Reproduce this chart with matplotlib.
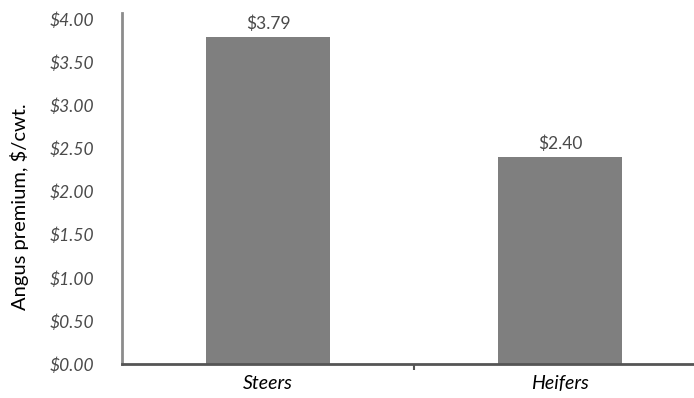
import matplotlib.pyplot as plt
from matplotlib.ticker import FixedLocator

# data
categories = ["Steers", "Heifers"]
premiums = [3.79, 2.40]
yticks = [0, 0.5, 1.0, 1.5, 2.0, 2.5, 3.0, 3.5, 4.0]

plt.rcParams['font.family'] = ['Lato', 'DejaVu Sans']

fig = plt.figure(figsize=(6.94, 3.98), dpi=100)
ax = fig.add_axes([0.1758, 0.0854, 0.8242, 0.882])

x = list(range(len(categories)))
ax.bar(x, premiums, width=0.425, color="#7f7f7f", zorder=2)

for xi, v in zip(x, premiums):
    ax.text(xi, v + 0.09, f"${v:.2f}", ha="center", va="baseline",
            fontsize=12.5, color="#4a4a4a")

ax.set_xlim(-0.5, 1.459)
ax.set_ylim(0, 4.07)

ax.set_yticks(yticks)
ax.set_yticklabels([f"${t:.2f}" for t in yticks], fontsize=12.5, style="italic",
                   color="#4a4a4a")
ax.tick_params(axis="y", length=0, pad=20)

ax.set_xticks(x)
ax.set_xticklabels(categories, fontsize=14, style="italic", color="black")
ax.tick_params(axis="x", which="major", length=0, pad=8)
ax.xaxis.set_minor_locator(FixedLocator([0.5]))
ax.tick_params(axis="x", which="minor", length=4, width=1.5, color="#555555")

fig.text(20 / 694, 1 - 207 / 398, "Angus premium, $/cwt.", rotation=90,
         ha="center", va="center", fontsize=14.5, color="black")

for s in ["top", "right"]:
    ax.spines[s].set_visible(False)
ax.spines["left"].set_color("#8c8c8c")
ax.spines["left"].set_linewidth(2)
ax.spines["bottom"].set_color("#555555")
ax.spines["bottom"].set_linewidth(2)

fig.savefig("out.png", dpi=100)
